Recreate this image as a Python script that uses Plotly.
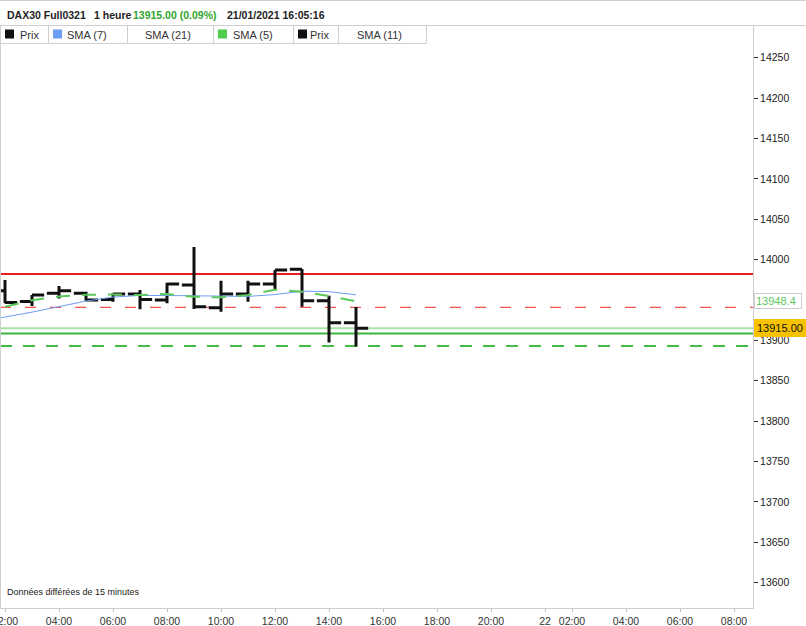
import plotly.graph_objects as go

# ---------------- data ----------------
bar_hours = [2, 3, 4, 5, 6, 7, 8, 9, 10, 11, 12, 13, 14, 15]
opens  = [13961.5, 13948.3, 13958.3, 13958.3, 13950.8, 13957.4, 13950.0, 13968.6, 13940.6, 13957.4, 13969.8, 13988.0, 13949.0, 13921.9]
highs  = [13974.7, 13956.2, 13967.3, 13960.4, 13958.3, 13962.4, 13971.4, 14015.6, 13974.0, 13973.8, 13987.1, 13988.4, 13955.4, 13941.3]
lows   = [13945.9, 13942.5, 13952.0, 13949.2, 13947.9, 13938.5, 13945.9, 13939.0, 13935.5, 13948.0, 13963.2, 13941.7, 13897.5, 13892.6]
closes = [13946.8, 13956.2, 13961.5, 13950.0, 13957.4, 13950.8, 13969.8, 13941.8, 13957.4, 13969.8, 13987.1, 13949.0, 13921.9, 13915.0]

sma7_hours = [1, 2, 3, 4, 5, 6, 7, 8, 9, 10, 11, 12, 13, 14, 15]
sma7 = [13922.0, 13929.0, 13935.0, 13942.0, 13948.7, 13953.7, 13955.6, 13955.6, 13955.3, 13954.3, 13954.5, 13956.8, 13960.9, 13960.4, 13956.4]

sma5_hours = [2, 3, 4, 5, 6, 7, 8, 9, 10, 11, 12, 13, 14, 15]
sma5 = [13941.7, 13949.7, 13954.3, 13956.4, 13957.0, 13956.2, 13957.4, 13954.1, 13953.3, 13956.2, 13962.8, 13960.2, 13954.9, 13948.4]

level_red = 13982.2
level_red_dash = 13941.0
level_last = 13915.0
level_green = 13908.6
level_green_dash = 13893.2

y_ticks = [13600, 13650, 13700, 13750, 13800, 13850, 13900, 13950, 14000, 14050, 14100, 14150, 14200, 14250]
y_hidden = [13950]  # covered by the SMA(5) value box in the reference
x_tickvals = [2, 4, 6, 8, 10, 12, 14, 16, 18, 20, 22, 23, 25, 27, 29]
x_ticktext = ["02:00", "04:00", "06:00", "08:00", "10:00", "12:00", "14:00", "16:00",
              "18:00", "20:00", "22", "02:00", "04:00", "06:00", "08:00"]

legend_items = [("Prix", "#111111"), ("SMA (7)", "#6d9cf5"), ("SMA (21)", None),
                ("SMA (5)", "#4ccd4c"), ("Prix", "#111111"), ("SMA (11)", None)]

# ---------------- layout geometry ----------------
W, H = 806, 626
PL, PR, PT, PB = 0, 753, 44, 608
FONT = "Liberation Sans, Arial, sans-serif"


def xp(px):
    return (px - PL) / (PR - PL)


def yp(py):
    return (PB - py) / (PB - PT)


fig = go.Figure()

fig.add_trace(go.Scatter(x=sma7_hours, y=sma7, mode="lines",
                         line=dict(color="#6f9cf7", width=1), hoverinfo="skip"))
fig.add_trace(go.Scatter(x=sma5_hours, y=sma5, mode="lines",
                         line=dict(color="#5bc85b", width=2, dash="14px,12px"), hoverinfo="skip"))
fig.add_trace(go.Ohlc(x=bar_hours, open=opens, high=highs, low=lows, close=closes,
                      increasing=dict(line=dict(color="#111111", width=3)),
                      decreasing=dict(line=dict(color="#111111", width=3)),
                      tickwidth=0.45, hoverinfo="skip"))

shapes = []
for lvl, col, wd, ds in [(level_red, "#ee1c1c", 2, "solid"),
                         (level_red_dash, "#f02828", 1, "11px,14px"),
                         (level_last, "#a8e2a8", 2, "solid"),
                         (level_green, "#3db53d", 2, "solid"),
                         (level_green_dash, "#44bb44", 2, "12px,11px")]:
    shapes.append(dict(type="line", xref="paper", yref="y", x0=0, x1=1, y0=lvl, y1=lvl,
                       line=dict(color=col, width=wd, dash=ds), layer="below"))

grey = "#cfcfcf"
shapes.append(dict(type="line", xref="paper", yref="paper", x0=xp(0.5), x1=xp(0.5), y0=yp(25), y1=yp(608), line=dict(color=grey, width=1)))
shapes.append(dict(type="line", xref="paper", yref="paper", x0=xp(PR + 0.5), x1=xp(PR + 0.5), y0=yp(25), y1=yp(PT), line=dict(color=grey, width=1)))
shapes.append(dict(type="line", xref="paper", yref="paper", x0=xp(0), x1=xp(806), y0=yp(0.5), y1=yp(0.5), line=dict(color=grey, width=1)))
shapes.append(dict(type="line", xref="paper", yref="paper", x0=xp(0), x1=xp(806), y0=yp(25.5), y1=yp(25.5), line=dict(color=grey, width=1)))
shapes.append(dict(type="line", xref="paper", yref="paper", x0=xp(0), x1=xp(426), y0=yp(43.5), y1=yp(43.5), line=dict(color=grey, width=1)))
seps = [48, 127, 213, 293, 338, 426]
for s in seps:
    shapes.append(dict(type="line", xref="paper", yref="paper", x0=xp(s + 0.5), x1=xp(s + 0.5), y0=yp(25.5), y1=yp(43.5), line=dict(color=grey, width=1)))

annotations = []
cell_starts = [0, 48, 127, 213, 293, 338]
text_offsets = [18, 17, 16, 18, 15, 17]
for (label, col), cx, to in zip(legend_items, cell_starts, text_offsets):
    if col:
        shapes.append(dict(type="rect", xref="paper", yref="paper", x0=xp(cx + 5), x1=xp(cx + 14),
                           y0=yp(38.5), y1=yp(29.5), fillcolor=col, line=dict(width=0)))
    annotations.append(dict(xref="paper", yref="paper", x=xp(cx + to), y=yp(34.5), text=label,
                            showarrow=False, xanchor="left", yanchor="middle",
                            font=dict(family=FONT, size=11, color="#333333")))

for txt, x0, col in [("<b>DAX30 Full0321</b>", 5, "#222222"), ("<b>1 heure</b>", 92, "#222222"),
                     ("<b>13915.00 (0.09%)</b>", 131, "#2fa52f"), ("<b>21/01/2021 16:05:16</b>", 225, "#222222")]:
    annotations.append(dict(xref="paper", yref="paper", x=xp(x0), y=yp(15), text=txt, showarrow=False,
                            xanchor="left", yanchor="middle", font=dict(family=FONT, size=10.5, color=col)))

annotations.append(dict(xref="paper", yref="paper", x=xp(5), y=yp(592), text="Données différées de 15 minutes",
                        showarrow=False, xanchor="left", yanchor="middle",
                        font=dict(family=FONT, size=9, color="#222222")))

annotations.append(dict(xref="paper", yref="y", x=1, y=sma7[-1], yshift=-3, xshift=6, text=f"{sma7[-1]:.1f}",
                        showarrow=False, xanchor="left", yanchor="middle",
                        font=dict(family=FONT, size=11, color="#7aa6f7")))
annotations.append(dict(xref="paper", yref="y", x=1, y=sma5[-1], xshift=1, text=f"{sma5[-1]:.1f}",
                        showarrow=False, xanchor="left", yanchor="middle", align="left", width=44,
                        bgcolor="white", bordercolor="#cccccc", borderwidth=1, borderpad=1,
                        font=dict(family=FONT, size=11, color="#5cc85c")))
annotations.append(dict(xref="paper", yref="y", x=1, y=level_last, xshift=1, text=f"{closes[-1]:.2f}",
                        showarrow=False, xanchor="left", yanchor="middle", align="left", width=49,
                        bgcolor="#f7c300", bordercolor="#f7c300", borderwidth=1, borderpad=2,
                        font=dict(family=FONT, size=11, color="#111111")))

fig.update_layout(
    width=W, height=H,
    margin=dict(l=PL, r=W - PR, t=PT, b=H - PB, pad=0),
    paper_bgcolor="white", plot_bgcolor="white",
    showlegend=False,
    shapes=shapes, annotations=annotations,
    xaxis=dict(range=[2 - 5 / 27, 2 + 748 / 27], tickvals=x_tickvals, ticktext=x_ticktext,
               showgrid=False, zeroline=False, showline=True, linecolor=grey, linewidth=1,
               ticks="outside", ticklen=3, tickcolor="#bbbbbb", ticklabeloverflow="allow",
               tickfont=dict(family=FONT, size=10.5, color="#333333"),
               rangeslider=dict(visible=False), automargin=False, fixedrange=True),
    yaxis=dict(range=[13568.7, 14267.0], side="right", tickvals=y_ticks,
               ticktext=["" if v in y_hidden else str(v) for v in y_ticks],
               showgrid=False, zeroline=False, showline=True, linecolor=grey, linewidth=1,
               ticks="outside", ticklen=4, tickcolor="#333333",
               tickfont=dict(family=FONT, size=10.5, color="#222222"),
               automargin=False, fixedrange=True),
    hovermode=False,
)

fig.write_html("out.html", config={"displayModeBar": False})
